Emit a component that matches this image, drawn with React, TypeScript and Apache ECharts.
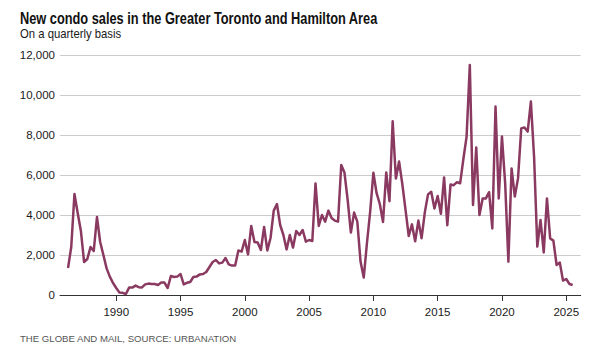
import React, { useEffect, useRef } from "react";
import * as echarts from "echarts";

// Quarterly new condo sales, GTHA, starting 1986 Q2
const START_YEAR = 1986;
const START_QUARTER = 2;
const sales: number[] = [
  1350, 2400, 5050, 4100, 3200, 1650, 1800, 2400, 2200, 3900,
  2650, 2000, 1330, 920, 600, 350, 120, 110, 50, 370,
  370, 470, 390, 380, 530, 570, 550, 550, 500, 620,
  620, 350, 950, 900, 920, 1050, 530, 610, 650, 900,
  920, 1030, 1050, 1150, 1400, 1650, 1750, 1580, 1620, 1850,
  1530, 1470, 1470, 2230, 2170, 2750, 2030, 3450, 2650, 2630,
  2250, 3400, 2230, 2850, 4220, 4550, 3500, 3000, 2280, 3000,
  2370, 3200, 3000, 3250, 2670, 2750, 2700, 5580, 3450, 4000,
  3670, 4220, 3850, 3720, 3670, 6500, 6120, 4750, 3120, 4120,
  3670, 1670, 870, 2600, 4170, 6110, 5090, 4550, 3650, 6130,
  4690, 8690, 5830, 6670, 5550, 4260, 2950, 3530, 2690, 3720,
  2840, 4130, 5030, 5160, 4330, 4950, 4060, 5880, 3490, 5520,
  5490, 5640, 5590, 6800, 7920, 11500, 4500, 7380, 4000, 4820,
  4830, 5140, 3330, 9420, 4830, 7920, 5580, 1670, 6330, 4920,
  5830, 8330, 8380, 8170, 9670, 6900, 2420, 3750, 2130, 4830,
  2830, 2720, 1500, 1620, 720, 800, 550, 500,
];

// Axis span (quarters) and labels
const AXIS_FIRST = { year: 1985, quarter: 4 };
const AXIS_LAST = { year: 2026, quarter: 1 };
const yTicks: number[] = [0, 2000, 4000, 6000, 8000, 10000, 12000];
const yearLabelStep = 5;

const TITLE = "New condo sales in the Greater Toronto and Hamilton Area";
const SUBTITLE = "On a quarterly basis";
const SOURCE = "THE GLOBE AND MAIL, SOURCE: URBANATION";

const qKey = (y: number, q: number) => `${y} Q${q}`;

const categories: string[] = [];
{
  let y = AXIS_FIRST.year;
  let q = AXIS_FIRST.quarter;
  while (y < AXIS_LAST.year || (y === AXIS_LAST.year && q <= AXIS_LAST.quarter)) {
    categories.push(qKey(y, q));
    q += 1;
    if (q > 4) {
      q = 1;
      y += 1;
    }
  }
}

const startIdx = categories.indexOf(qKey(START_YEAR, START_QUARTER));
const seriesData: (number | null)[] = categories.map((_, i) => {
  const k = i - startIdx;
  return k >= 0 && k < sales.length ? sales[k] : null;
});

const isLabelQuarter = (value: string) => {
  const [ys, qs] = value.split(" ");
  return qs === "Q1" && Number(ys) % yearLabelStep === 0;
};

const FONT = '"Liberation Sans", Arial, sans-serif';

export default function App() {
  const ref = useRef<HTMLDivElement>(null);

  useEffect(() => {
    if (!ref.current) return;
    const chart = echarts.init(ref.current, undefined, { renderer: "svg" });
    chart.setOption({
      animation: false,
      backgroundColor: "#ffffff",
      grid: { left: 60, top: 55, width: 520.7, height: 240, containLabel: false },
      graphic: [
        {
          type: "text",
          x: 20,
          y: 18,
          scaleX: 0.8,
          style: {
            text: TITLE,
            fontFamily: FONT,
            fontSize: 16,
            fontWeight: "bold",
            fill: "#111111",
            align: "left",
            verticalAlign: "middle",
          },
        },
        {
          type: "text",
          x: 20,
          y: 33.5,
          scaleX: 0.87,
          style: {
            text: SUBTITLE,
            fontFamily: FONT,
            fontSize: 13,
            fill: "#1a1a1a",
            align: "left",
            verticalAlign: "middle",
          },
        },
        {
          type: "text",
          x: 20,
          y: 338,
          style: {
            text: SOURCE,
            fontFamily: FONT,
            fontSize: 9.6,
            fill: "#555555",
            align: "left",
            verticalAlign: "middle",
          },
        },
      ],
      xAxis: {
        type: "category",
        data: categories,
        boundaryGap: true,
        axisLine: { show: true, lineStyle: { color: "#333333", width: 1 } },
        axisTick: {
          show: true,
          alignWithLabel: true,
          length: 6,
          interval: (_i: number, v: string) => isLabelQuarter(v),
          lineStyle: { color: "#333333", width: 1 },
        },
        axisLabel: {
          interval: (_i: number, v: string) => isLabelQuarter(v),
          formatter: (v: string) => v.split(" ")[0],
          fontFamily: FONT,
          fontSize: 11.5,
          color: "#1a1a1a",
          margin: 11,
        },
        splitLine: { show: false },
      },
      yAxis: {
        type: "value",
        min: yTicks[0],
        max: yTicks[yTicks.length - 1],
        interval: yTicks[1] - yTicks[0],
        axisLine: { show: false },
        axisTick: { show: false },
        axisLabel: {
          fontFamily: FONT,
          fontSize: 11.5,
          color: "#1a1a1a",
          margin: 5,
          formatter: (v: number) => v.toLocaleString("en-US"),
        },
        splitLine: { show: true, lineStyle: { color: "#cccccc", width: 1 } },
      },
      series: [
        {
          type: "line",
          data: seriesData,
          showSymbol: false,
          symbol: "none",
          connectNulls: false,
          lineStyle: { color: "#8a3a60", width: 2.5, join: "round" },
          itemStyle: { color: "#8a3a60" },
          z: 3,
        },
      ],
    });
    return () => chart.dispose();
  }, []);

  return <div ref={ref} style={{ width: 614, height: 354, position: "absolute", left: 0, top: 0 }} />;
}
